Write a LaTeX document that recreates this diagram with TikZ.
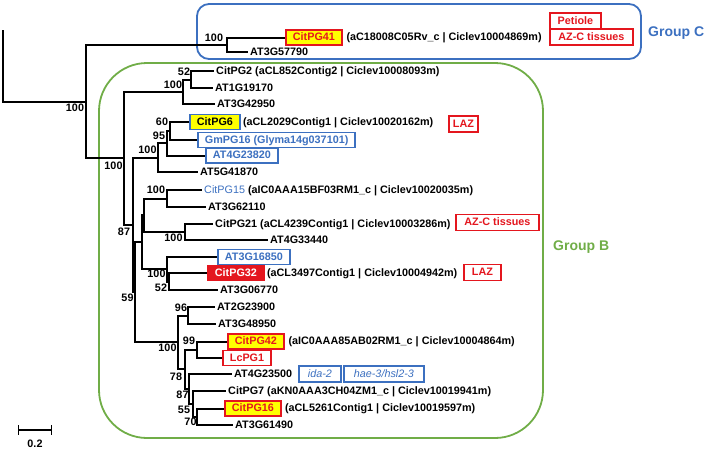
\documentclass[tikz,border=0pt]{standalone}
\usepackage{fontspec}
\setmainfont{Liberation Sans}
\usetikzlibrary{positioning}
\definecolor{cred}{RGB}{228,22,30}
\definecolor{cblue}{RGB}{60,112,192}
\definecolor{cgreen}{RGB}{112,173,71}
\definecolor{cyel}{RGB}{255,255,0}
\begin{document}
\begin{tikzpicture}[x=1pt,y=-1pt,
  tr/.style={line width=2pt},
  fnt/.style={font=\fontsize{10.8}{12}\selectfont\bfseries},
  lf/.style={fnt, anchor=west, inner xsep=2pt, inner ysep=0pt, text height=8pt, text depth=2pt},
  bs/.style={fnt, inner sep=0pt, text height=8pt, text depth=0pt},
  bx/.style={fnt, anchor=west, line width=1.8pt, inner xsep=7pt, inner ysep=0pt, minimum height=15pt, text height=8pt, text depth=2pt},
  ybx/.style={bx, draw=cred, fill=cyel, text=cred},
  rbx/.style={bx, draw=cred, fill=white, text=cred},
  bbx/.style={bx, draw=cblue, fill=white, text=cblue},
  tagbx/.style={rbx, inner xsep=2pt, minimum height=16pt},
  itbx/.style={bbx, font=\fontsize{10.8}{12}\selectfont\itshape, inner xsep=2pt, minimum height=16pt},
  grp/.style={font=\fontsize{14}{16}\selectfont\bfseries, anchor=west, inner sep=0pt}
]
\useasboundingbox (0,0) rectangle (708,450);

% group frames
\draw[line width=1.8pt, cblue, rounded corners=12pt] (197,4) rectangle (641,59);
\draw[line width=1.8pt, cgreen, rounded corners=48pt] (99,63) rectangle (543,438);
\node[grp, text=cblue] (gC) at (648,33.5) {Group C};
\node[grp, text=cgreen] (gB) at (553,247) {Group B};

% internal nodes
\coordinate (r0) at (3,30);
\coordinate (r1) at (3,101.6);
\coordinate (nR) at (86,101.6);
\coordinate (nGC) at (227,44.75);
\coordinate (nB) at (124,158.4);
\coordinate (n1) at (183,91.75);
\coordinate (n2) at (191,79.5);
\coordinate (nC) at (133,225);
\coordinate (nA) at (158,157.6);
\coordinate (n95) at (167,143.25);
\coordinate (n60) at (170,131);
\coordinate (nD) at (135,292.3);
\coordinate (nE) at (142,242.25);
\coordinate (nE1) at (143.5,215.25);
\coordinate (n15) at (167,198.5);
\coordinate (n21) at (185,232);
\coordinate (n32) at (167,269.25);
\coordinate (n52) at (169,281.5);
\coordinate (nF) at (178,342.4);
\coordinate (n96) at (188,315.5);
\coordinate (nG) at (185,369.3);
\coordinate (n99) at (197,349.75);
\coordinate (n87) at (189,388.9);
\coordinate (n55) at (193,403.9);
\coordinate (n70) at (197,416.75);

% leaves
\node[ybx] (L41) at (285,37.5) {CitPG41};
\node[lf, right=1.5pt of L41] (T41) {(aC18008C05Rv\_c | Ciclev10004869m)};
\node[lf] (L57790) at (248,52) {AT3G57790};
\node[lf] (LPG2) at (214,71) {CitPG2 (aCL852Contig2 | Ciclev10008093m)};
\node[lf] (L19170) at (213,88) {AT1G19170};
\node[lf] (L42950) at (215,104) {AT3G42950};
\node[ybx, draw=cblue, text=black] (LPG6) at (189,122) {CitPG6};
\node[lf, right=0pt of LPG6] (TPG6) {(aCL2029Contig1 | Ciclev10020162m)};
\node[bbx] (LGm) at (197,140) {GmPG16 (Glyma14g037101)};
\node[bbx] (L23820) at (205,155.5) {AT4G23820};
\node[lf] (L41870) at (198,172) {AT5G41870};
\node[lf] (LPG15) at (202,190) {{\color{cblue}\mdseries CitPG15} (aIC0AAA15BF03RM1\_c | Ciclev10020035m)};
\node[lf] (L62110) at (206,207) {AT3G62110};
\node[lf] (LPG21) at (213,224) {CitPG21 (aCL4239Contig1 | Ciclev10003286m)};
\node[lf] (L33440) at (268,240) {AT4G33440};
\node[bbx] (L16850) at (217,257) {AT3G16850};
\node[bx, draw=cred, fill=cred, text=white] (LPG32) at (207,273) {CitPG32};
\node[lf, right=0pt of LPG32] (TPG32) {(aCL3497Contig1 | Ciclev10004942m)};
\node[lf] (L06770) at (218,290) {AT3G06770};
\node[lf] (L23900) at (215,307) {AT2G23900};
\node[lf] (L48950) at (216,324) {AT3G48950};
\node[ybx] (LPG42) at (227,341.5) {CitPG42};
\node[lf, right=1.5pt of LPG42] (TPG42) {(aIC0AAA85AB02RM1\_c | Ciclev10004864m)};
\node[rbx] (LLc) at (222,358) {LcPG1};
\node[lf] (L23500) at (232,374) {AT4G23500};
\node[lf] (LPG7) at (226,391) {CitPG7 (aKN0AAA3CH04ZM1\_c | Ciclev10019941m)};
\node[ybx] (LPG16) at (224,408.5) {CitPG16};
\node[lf, right=1pt of LPG16] (TPG16) {(aCL5261Contig1 | Ciclev10019597m)};
\node[lf] (L61490) at (233,425) {AT3G61490};

% tags
\node[tagbx, minimum width=51pt] (tPet) at (549,21) {Petiole};
\node[tagbx, minimum width=83pt] (tAZ1) at (549,37) {AZ-C tissues};
\node[tagbx, minimum width=29pt] (tLAZ1) at (448,124) {LAZ};
\node[tagbx, minimum width=83pt] (tAZ2) at (455,222.5) {AZ-C tissues};
\node[tagbx, minimum width=37pt] (tLAZ2) at (463,272.5) {LAZ};
\node[itbx, minimum width=42pt] (tIda) at (298,374) {ida-2};
\node[itbx, minimum width=80pt] (tHae) at (343,374) {hae-3/hsl2-3};

% branches
\draw[tr] (r0) -- (r1) -- (nR);
\draw[tr] (nR) |- (nGC);
\draw[tr] (nR) |- (nB);
\draw[tr] (nGC) |- (L41.west);
\draw[tr] (nGC) |- (L57790.west);
\draw[tr] (nB) |- (n1);
\draw[tr] (nB) |- (nC);
\draw[tr] (n1) |- (n2);
\draw[tr] (n1) |- (L42950.west);
\draw[tr] (n2) |- (LPG2.west);
\draw[tr] (n2) |- (L19170.west);
\draw[tr] (nC) |- (nA);
\draw[tr] (nC) |- (nD);
\draw[tr] (nA) |- (n95);
\draw[tr] (nA) |- (L41870.west);
\draw[tr] (n95) |- (n60);
\draw[tr] (n95) |- (L23820.west);
\draw[tr] (n60) |- (LPG6.west);
\draw[tr] (n60) |- (LGm.west);
\draw[tr] (nD) |- (nE);
\draw[tr] (nD) |- (nF);
\draw[tr] (nE) |- (nE1);
\draw[tr] (nE) |- (n32);
\draw[tr] (nE1) |- (n15);
\draw[tr] (nE1) |- (n21);
\draw[tr] (n15) |- (LPG15.west);
\draw[tr] (n15) |- (L62110.west);
\draw[tr] (n21) |- (LPG21.west);
\draw[tr] (n21) |- (L33440.west);
\draw[tr] (n32) |- (L16850.west);
\draw[tr] (n32) |- (n52);
\draw[tr] (n52) |- (LPG32.west);
\draw[tr] (n52) |- (L06770.west);
\draw[tr] (nF) |- (n96);
\draw[tr] (nF) |- (nG);
\draw[tr] (n96) |- (L23900.west);
\draw[tr] (n96) |- (L48950.west);
\draw[tr] (nG) |- (n99);
\draw[tr] (nG) |- (n87);
\draw[tr] (n99) |- (LPG42.west);
\draw[tr] (n99) |- (LLc.west);
\draw[tr] (n87) |- (L23500.west);
\draw[tr] (n87) |- (n55);
\draw[tr] (n55) |- (LPG7.west);
\draw[tr] (n55) |- (n70);
\draw[tr] (n70) |- (LPG16.west);
\draw[tr] (n70) |- (L61490.west);

% bootstrap values
\node[bs] (bR) at (75,107) {100};
\node[bs] (bGC) at (214,37.5) {100};
\node[bs] (b2) at (184,71) {52};
\node[bs] (b1) at (173,84) {100};
\node[bs] (b60) at (162,121) {60};
\node[bs] (b95) at (159,135.5) {95};
\node[bs] (bA) at (147.5,149.5) {100};
\node[bs] (bB) at (113.5,165.5) {100};
\node[bs] (b15) at (156,189) {100};
\node[bs] (b21) at (173.5,237) {100};
\node[bs] (bC) at (124,231.5) {87};
\node[bs] (b32) at (156.5,273.5) {100};
\node[bs] (b52) at (161,287) {52};
\node[bs] (bD) at (127.5,297) {59};
\node[bs] (b96) at (181,307) {96};
\node[bs] (bF) at (167.5,347.5) {100};
\node[bs] (b99) at (189,340.5) {99};
\node[bs] (bG) at (176,376) {78};
\node[bs] (b87) at (182.5,394) {87};
\node[bs] (b55) at (184,409) {55};
\node[bs] (b70) at (190.5,421.5) {70};

% scale bar
\coordinate (s0) at (18,430);
\coordinate (s1) at (52,430);
\draw[line width=1.4pt, |-|] (s0) -- (s1);
\node[fnt, inner sep=0pt, text height=8pt, text depth=0pt] (sl) at (35,443) {0.2};
\end{tikzpicture}
\end{document}
